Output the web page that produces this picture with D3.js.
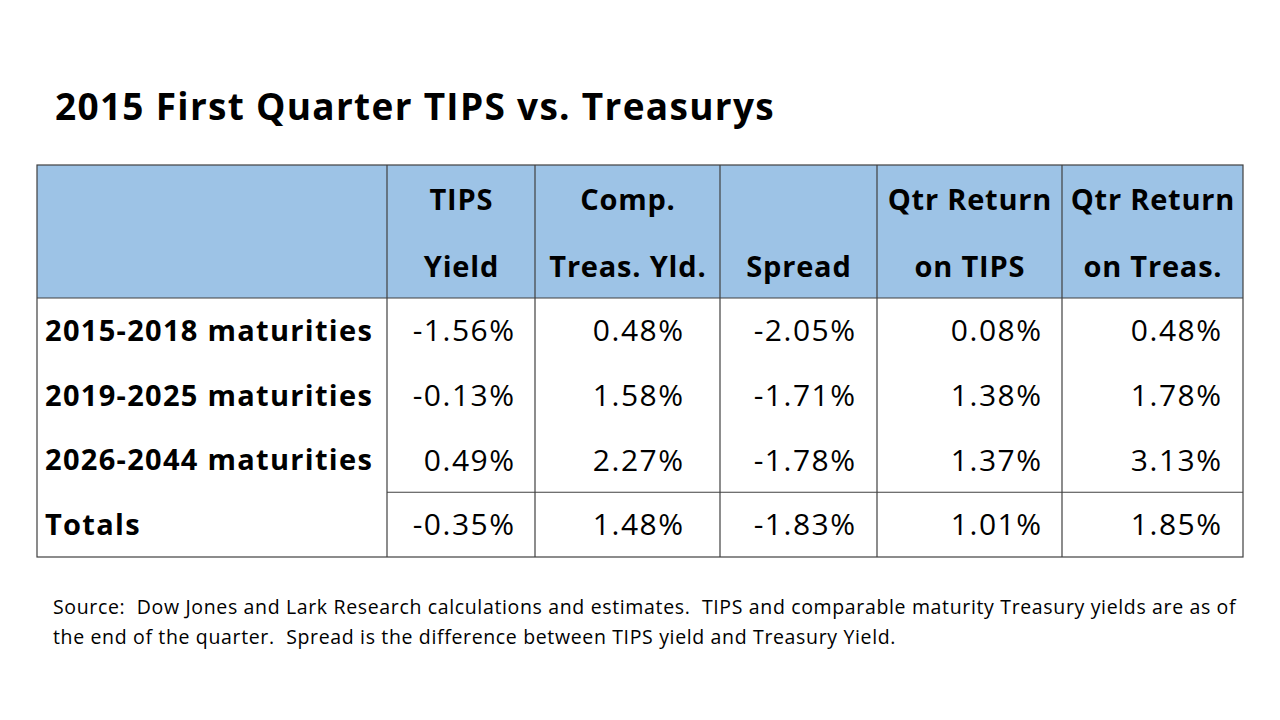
<!DOCTYPE html>
<html>
<head>
<meta charset="utf-8">
<script src="https://cdn.jsdelivr.net/npm/d3@7"></script>
<style>
  body { margin: 0; background: #fff; }
  svg { display: block; font-family: 'Open Sans', Lato, sans-serif; font-variant-ligatures: none; }
  text { white-space: pre; }
</style>
</head>
<body>
<div id="chartwrap"></div>
<script>
const title = '2015 First Quarter TIPS vs. Treasurys'

const headerTop = ['', 'TIPS', 'Comp.', '', 'Qtr Return', 'Qtr Return']
const headerBottom = ['', 'Yield', 'Treas. Yld.', 'Spread', 'on TIPS', 'on Treas.']

const rowLabels = ['2015-2018 maturities', '2019-2025 maturities', '2026-2044 maturities', 'Totals']

const tipsYield = [-1.56, -0.13, 0.49, -0.35]
const compTreasYield = [0.48, 1.58, 2.27, 1.48]
const spread = [-2.05, -1.71, -1.78, -1.83]
const qtrReturnTips = [0.08, 1.38, 1.37, 1.01]
const qtrReturnTreas = [0.48, 1.78, 3.13, 1.85]

const sourceLines = [
  'Source:  Dow Jones and Lark Research calculations and estimates.  TIPS and comparable maturity Treasury yields are as of',
  'the end of the quarter.  Spread is the difference between TIPS yield and Treasury Yield.'
]

const WIDTH = 1280;
const HEIGHT = 720;

const table = { left: 37, right: 1243, top: 165, headBottom: 298, bottom: 557 };
const colEdges = [37, 387, 535, 720, 877, 1062, 1243];
const colPadRight = [0, 21, 37, 22, 21, 22];
const valueSpacing = 1.5;

const series = [tipsYield, compTreasYield, spread, qtrReturnTips, qtrReturnTreas];
const cols = d3.range(headerTop.length);

const xLeft = d3.scaleOrdinal().domain(cols).range(colEdges.slice(0, -1));
const xRight = d3.scaleOrdinal().domain(cols).range(colEdges.slice(1));

const yScale = d3.scaleBand()
  .domain(rowLabels)
  .range([table.headBottom, table.bottom]);

const fmt = v => v.toFixed(2) + '%';

const svg = d3.select('#chartwrap')
  .append('svg')
  .attr('width', WIDTH)
  .attr('height', HEIGHT)

svg.append('text')
  .attr('x', 55)
  .attr('y', 120)
  .attr('font-size', 37)
  .attr('font-weight', 700)
  .attr('letter-spacing', 1.3)
  .attr('fill', '#000')
  .text(title)

// header background
svg.append('rect')
  .attr('x', table.left)
  .attr('y', table.top)
  .attr('width', table.right - table.left)
  .attr('height', table.headBottom - table.top)
  .attr('fill', '#9dc3e6')

// header text
const head = svg.append('g').attr('class', 'header')
  .attr('font-size', 29)
  .attr('font-weight', 700)
  .attr('letter-spacing', 0.8)
  .attr('text-anchor', 'middle')

head.selectAll('text.top')
  .data(cols.filter(i => headerTop[i]))
  .enter()
  .append('text')
  .attr('class', 'top')
  .attr('x', i => (xLeft(i) + xRight(i)) / 2 + 0.4)
  .attr('y', 210)
  .text(i => headerTop[i])

head.selectAll('text.bottom')
  .data(cols.filter(i => headerBottom[i]))
  .enter()
  .append('text')
  .attr('class', 'bottom')
  .attr('x', i => (xLeft(i) + xRight(i)) / 2 + 0.4)
  .attr('y', 277)
  .text(i => headerBottom[i])

// row labels
svg.selectAll('text.rowlabel')
  .data(rowLabels)
  .enter()
  .append('text')
  .attr('class', 'rowlabel')
  .attr('x', 45)
  .attr('y', d => yScale(d) + yScale.bandwidth() / 2)
  .attr('dy', '0.36em')
  .attr('font-size', 29)
  .attr('font-weight', 700)
  .attr('letter-spacing', 1.3)
  .text(d => d)

// value cells
const cells = [];
series.forEach((s, c) => s.forEach((v, r) => cells.push({ col: c + 1, row: rowLabels[r], v })));

svg.selectAll('text.cell')
  .data(cells)
  .enter()
  .append('text')
  .attr('class', 'cell')
  .attr('x', d => xRight(d.col) - colPadRight[d.col] + valueSpacing)
  .attr('y', d => yScale(d.row) + yScale.bandwidth() / 2)
  .attr('dy', '0.36em')
  .attr('text-anchor', 'end')
  .attr('font-size', 30)
  .attr('letter-spacing', valueSpacing)
  .text(d => fmt(d.v))

// grid lines
const lines = svg.append('g')
  .attr('stroke', '#404040')
  .attr('stroke-width', 1.2)
  .attr('fill', 'none')

lines.append('rect')
  .attr('x', table.left)
  .attr('y', table.top)
  .attr('width', table.right - table.left)
  .attr('height', table.bottom - table.top)

lines.selectAll('line.v')
  .data(cols.slice(1))
  .enter()
  .append('line')
  .attr('x1', i => xLeft(i))
  .attr('x2', i => xLeft(i))
  .attr('y1', table.top)
  .attr('y2', table.bottom)

lines.append('line')
  .attr('x1', table.left)
  .attr('x2', table.right)
  .attr('y1', table.headBottom)
  .attr('y2', table.headBottom)

lines.append('line')
  .attr('x1', xLeft(1))
  .attr('x2', table.right)
  .attr('y1', yScale('Totals'))
  .attr('y2', yScale('Totals'))

svg.selectAll('text.source')
  .data(sourceLines)
  .enter()
  .append('text')
  .attr('class', 'source')
  .attr('x', 53)
  .attr('y', (d, i) => 614 + i * 30)
  .attr('font-size', 19.5)
  .attr('letter-spacing', 0.65)
  .attr('fill', '#000')
  .text(d => d)
</script>
</body>
</html>
